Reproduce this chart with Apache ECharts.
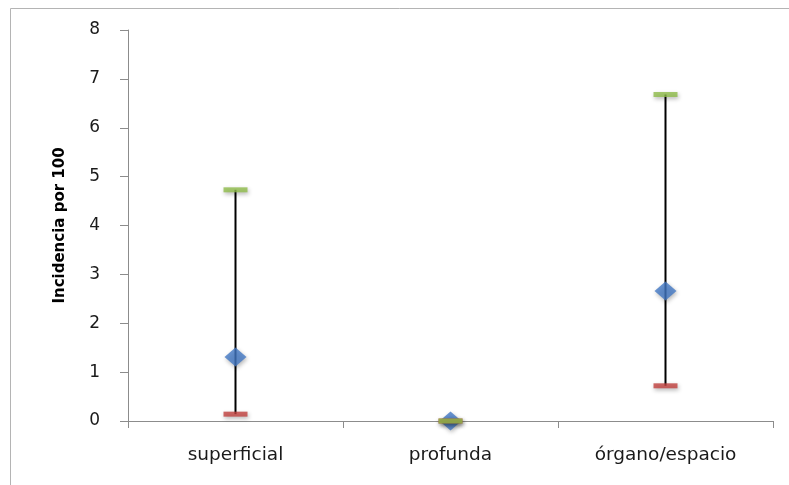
<!DOCTYPE html>
<html>
<head>
<meta charset="utf-8">
<script src="https://cdn.jsdelivr.net/npm/echarts@6/dist/echarts.min.js"></script>
<style>
  html, body { margin: 0; padding: 0; background: #fff; }
  #chart { width: 789px; height: 485px; }
</style>
</head>
<body>
<div id="chart"></div>
<script>
// Incidence per 100: point estimate with lower / upper bounds per category
var categories = ['superficial', 'profunda', 'órgano/espacio'];
var estimate = [1.31, 0, 2.66];
var lower = [0.14, 0, 0.72];
var upper = [4.73, 0, 6.68];
var yTicks = [0, 1, 2, 3, 4, 5, 6, 7, 8];

var chart = echarts.init(document.getElementById('chart'));

var shadow = { shadowBlur: 4, shadowColor: 'rgba(0,0,0,0.35)', shadowOffsetX: 1, shadowOffsetY: 2 };

chart.setOption({
  animation: false,
  backgroundColor: '#fff',
  grid: { left: 128, right: 16, top: 30, bottom: 64 },
  graphic: [
    { type: 'line', shape: { x1: 10.5, y1: 8.5, x2: 789, y2: 8.5 }, style: { stroke: '#b4b4b4', lineWidth: 1 } },
    { type: 'line', shape: { x1: 10.5, y1: 8.5, x2: 10.5, y2: 485 }, style: { stroke: '#b4b4b4', lineWidth: 1 } }
  ],
  xAxis: {
    type: 'category',
    data: categories,
    boundaryGap: true,
    axisLine: { lineStyle: { color: '#8c8c8c', width: 1 } },
    axisTick: { show: true, interval: 0, length: 7, lineStyle: { color: '#8c8c8c' } },
    axisLabel: { color: '#1a1a1a', fontFamily: 'DejaVu Sans', fontSize: 18.5, margin: 25 }
  },
  yAxis: {
    type: 'value',
    min: yTicks[0],
    max: yTicks[yTicks.length - 1],
    interval: 1,
    name: 'Incidencia por 100',
    nameLocation: 'middle',
    nameGap: 60,
    nameTextStyle: { fontFamily: 'DejaVu Sans', fontWeight: 'bold', fontSize: 15, color: '#000' },
    axisLine: { show: true, lineStyle: { color: '#8c8c8c', width: 1 } },
    axisTick: { show: true, length: 8, lineStyle: { color: '#8c8c8c' } },
    splitLine: { show: false },
    axisLabel: { color: '#1a1a1a', fontFamily: 'DejaVu Sans', fontSize: 17, margin: 28 }
  },
  series: [
    {
      type: 'custom',
      z: 1,
      data: categories.map(function (c, i) { return [i, lower[i], upper[i]]; }),
      renderItem: function (params, api) {
        var lo = api.coord([api.value(0), api.value(1)]);
        var hi = api.coord([api.value(0), api.value(2)]);
        return {
          type: 'line',
          shape: { x1: lo[0], y1: lo[1], x2: hi[0], y2: hi[1] },
          style: { stroke: '#000', lineWidth: 2 }
        };
      }
    },
    {
      type: 'scatter', z: 2,
      data: estimate,
      symbol: 'diamond', symbolSize: [22, 19],
      itemStyle: Object.assign({ color: '#4278c4' }, shadow)
    },
    {
      type: 'scatter', z: 3,
      data: lower,
      symbol: 'rect', symbolSize: [24, 5],
      itemStyle: Object.assign({ color: '#c0403d' }, shadow)
    },
    {
      type: 'scatter', z: 4,
      data: upper,
      symbol: 'rect', symbolSize: [24, 5],
      itemStyle: Object.assign({ color: '#8fbc4a' }, shadow)
    }
  ]
});
</script>
</body>
</html>
